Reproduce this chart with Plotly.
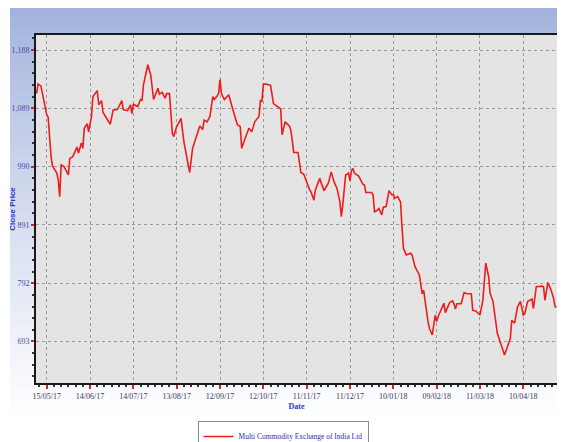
import plotly.graph_objects as go

# ---- data ----
dates = [
    "2017-05-08", "2017-05-09", "2017-05-11", "2017-05-13", "2017-05-15", "2017-05-16", "2017-05-18",
    "2017-05-19", "2017-05-22", "2017-05-23", "2017-05-24", "2017-05-25", "2017-05-27", "2017-05-30",
    "2017-05-31", "2017-06-02", "2017-06-05", "2017-06-06", "2017-06-08", "2017-06-09", "2017-06-10",
    "2017-06-12", "2017-06-13", "2017-06-15", "2017-06-16", "2017-06-19", "2017-06-20", "2017-06-22",
    "2017-06-23", "2017-06-28", "2017-06-30", "2017-07-03", "2017-07-06", "2017-07-07", "2017-07-10",
    "2017-07-12", "2017-07-13", "2017-07-14", "2017-07-17", "2017-07-19", "2017-07-20", "2017-07-21",
    "2017-07-24", "2017-07-26", "2017-07-28", "2017-07-31", "2017-08-01", "2017-08-03", "2017-08-05",
    "2017-08-06", "2017-08-08", "2017-08-10", "2017-08-11",
    "2017-08-13", "2017-08-16", "2017-08-18", "2017-08-20", "2017-08-22", "2017-08-24", "2017-08-26",
    "2017-08-29", "2017-08-31", "2017-09-01", "2017-09-03", "2017-09-05", "2017-09-07", "2017-09-08",
    "2017-09-10", "2017-09-11", "2017-09-12", "2017-09-13", "2017-09-15", "2017-09-18", "2017-09-21",
    "2017-09-24", "2017-09-26", "2017-09-27", "2017-09-29", "2017-10-02", "2017-10-04", "2017-10-06",
    "2017-10-09", "2017-10-10", "2017-10-11", "2017-10-12", "2017-10-14", "2017-10-17", "2017-10-19",
    "2017-10-21", "2017-10-24", "2017-10-25", "2017-10-27", "2017-10-30", "2017-10-31", "2017-11-01",
    "2017-11-02", "2017-11-05", "2017-11-07", "2017-11-09", "2017-11-11", "2017-11-13", "2017-11-14",
    "2017-11-16", "2017-11-17", "2017-11-20", "2017-11-22", "2017-11-23", "2017-11-26", "2017-11-28",
    "2017-11-30", "2017-12-02", "2017-12-04", "2017-12-05", "2017-12-06", "2017-12-08", "2017-12-09",
    "2017-12-10", "2017-12-11", "2017-12-12", "2017-12-13", "2017-12-14", "2017-12-17", "2017-12-18",
    "2017-12-20", "2017-12-21", "2017-12-22", "2017-12-26", "2017-12-27", "2017-12-28", "2017-12-30",
    "2017-12-31", "2018-01-02", "2018-01-03", "2018-01-05", "2018-01-07", "2018-01-09", "2018-01-10",
    "2018-01-11", "2018-01-13", "2018-01-15", "2018-01-16", "2018-01-17", "2018-01-19", "2018-01-22",
    "2018-01-23", "2018-01-25", "2018-01-28", "2018-01-29", "2018-01-30", "2018-01-31", "2018-02-02",
    "2018-02-03", "2018-02-04", "2018-02-06", "2018-02-08", "2018-02-09", "2018-02-10", "2018-02-14",
    "2018-02-15", "2018-02-18", "2018-02-20", "2018-02-21", "2018-02-22", "2018-02-23", "2018-02-26",
    "2018-02-28", "2018-03-02", "2018-03-05", "2018-03-06", "2018-03-08", "2018-03-11", "2018-03-13",
    "2018-03-15", "2018-03-17", "2018-03-18", "2018-03-20", "2018-03-23", "2018-03-25", "2018-03-28",
    "2018-03-30", "2018-04-01", "2018-04-02", "2018-04-04", "2018-04-06", "2018-04-08", "2018-04-10",
    "2018-04-11", "2018-04-13", "2018-04-16", "2018-04-17", "2018-04-19", "2018-04-23", "2018-04-24",
    "2018-04-25", "2018-04-27", "2018-04-29", "2018-05-01", "2018-05-02", "2018-05-03",
]
close_price = [
    1114, 1130, 1127, 1103, 1078, 1074, 1007,
    991, 979, 967, 939, 993, 990, 976,
    1004, 1007, 1023, 1013, 1030, 1021, 1055,
    1063, 1049, 1075, 1109, 1119, 1095, 1102,
    1082, 1062, 1086, 1087, 1102, 1087, 1085,
    1095, 1080, 1096, 1092, 1104, 1102, 1129,
    1163, 1146, 1104, 1123, 1113, 1116, 1106,
    1114, 1114, 1046, 1041,
    1058, 1072, 1032, 1007, 980, 1021, 1038,
    1059, 1053, 1069, 1066, 1075, 1109, 1104,
    1110, 1114, 1138, 1114, 1104, 1112, 1086,
    1061, 1058, 1021, 1035, 1055, 1049, 1066,
    1075, 1103, 1100, 1130, 1130, 1128, 1097,
    1094, 1088, 1044, 1066, 1059, 1052, 1035,
    1014, 1014, 980, 977, 963, 951, 947,
    933, 950, 970, 956, 949, 962, 981,
    964, 953, 930, 905, 925, 976, 977,
    979, 966, 983, 987, 979, 974, 970,
    960, 959, 946, 946, 942, 913, 916,
    919, 908, 921, 922, 949, 942, 943,
    936, 939, 930, 888, 851, 840, 843,
    840, 820, 806, 789, 774, 780, 740,
    727, 715, 704, 738, 727, 735, 758,
    742, 759, 762, 757, 748, 757, 757,
    776, 774, 774, 746, 745, 738, 763,
    826, 803, 775, 761, 707, 693, 670,
    684, 698, 729, 724, 752, 761, 738,
    740, 761, 765, 749, 786, 787, 786,
    763, 793, 782, 766, 752, 751,
]
series_name = "Multi Commodity Exchange of India Ltd"

x_tick_vals = ["2017-05-15", "2017-06-14", "2017-07-14", "2017-08-13", "2017-09-12", "2017-10-12",
               "2017-11-11", "2017-12-11", "2018-01-10", "2018-02-09", "2018-03-11", "2018-04-10"]
x_tick_text = ["15/05/17", "14/06/17", "14/07/17", "13/08/17", "12/09/17", "12/10/17",
               "11/11/17", "11/12/17", "10/01/18", "09/02/18", "11/03/18", "10/04/18"]
y_tick_vals = [693, 792, 891, 990, 1089, 1188]
y_tick_text = ["693", "792", "891", "990", "1,089", "1,188"]

# ---- geometry (page pixels; the page body has an 8px margin) ----
OFF = 8
W, H = 565 - OFF, 442 - OFF
PL, PR, PT, PB = 36, 557, 35, 383          # plot area in page pixels
ML, MT = PL - OFF, PT - OFF
MR = (W + OFF) - PR
MB = (H + OFF) - PB
plot_w = PR - PL
plot_h = PB - PT


def px_to_paper_y(py):
    return (PB - py) / plot_h


def px_to_paper_x(px):
    return (px - PL) / plot_w


fig = go.Figure()
fig.add_trace(go.Scatter(
    x=dates, y=close_price, mode="lines", name=series_name,
    line=dict(color="#ee1c1c", width=1.6),
))

# background panel with a vertical blue-to-white gradient (built from bands)
shapes = []
top_c = (162, 178, 220)
bot_c = (255, 255, 255)
y_top, y_bot = 8, 425
n = 45
for i in range(n):
    t = i / (n - 1)
    c = tuple(int(round(a + (b - a) * (t ** 0.85))) for a, b in zip(top_c, bot_c))
    py0 = y_top + (y_bot - y_top) * i / n
    py1 = y_top + (y_bot - y_top) * (i + 1) / n
    shapes.append(dict(
        type="rect", xref="paper", yref="paper", layer="below",
        x0=px_to_paper_x(10), x1=px_to_paper_x(570),
        y0=px_to_paper_y(py1 + 0.6), y1=px_to_paper_y(py0),
        fillcolor="rgb(%d,%d,%d)" % c, line=dict(width=0),
    ))
# plot area fill
shapes.append(dict(type="rect", xref="paper", yref="paper", layer="below",
                   x0=0, x1=1, y0=0, y1=1, fillcolor="#e4e4e4", line=dict(width=0)))

fig.update_layout(
    width=W, height=H,
    margin=dict(l=ML, r=MR, t=MT, b=MB, autoexpand=False),
    paper_bgcolor="white",
    plot_bgcolor="#e4e4e4",
    shapes=shapes,
    showlegend=True,
    legend=dict(
        x=px_to_paper_x(283), xanchor="center",
        yref="container", y=(H + OFF - 421) / H, yanchor="top",
        bgcolor="white", bordercolor="#8a8a8a", borderwidth=1,
        font=dict(family="Liberation Serif", size=7.5, color="#2630b0"),
        itemwidth=30, tracegroupgap=0,
    ),
    xaxis=dict(
        type="date",
        range=["2017-05-07 14:00", "2018-05-03 08:00"],
        tickmode="array", tickvals=x_tick_vals, ticktext=x_tick_text,
        tickfont=dict(family="Liberation Serif", size=8, color="#3a3a5a"),
        ticks="outside", ticklen=4, tickwidth=1.5, tickcolor="#dd2222",
        showline=True, linecolor="#1a1a1a", linewidth=2, mirror=True,
        showgrid=True, gridcolor="#9a9a9a", griddash="dot", gridwidth=1,
        zeroline=False,
        minor=dict(ticks="outside", ticklen=2, tickcolor="#333333",
                   tick0="2017-05-15", dtick=5 * 86400000, showgrid=False),
        title=dict(text="<b>Date</b>", standoff=4,
                   font=dict(family="Liberation Serif", size=8, color="#2a3ac8")),
    ),
    yaxis=dict(
        range=[622.5, 1213.5],
        tickmode="array", tickvals=y_tick_vals, ticktext=y_tick_text,
        tickfont=dict(family="Liberation Serif", size=8, color="#4a4ab0"),
        ticks="outside", ticklen=3, tickwidth=2, tickcolor="#dd2222",
        showline=True, linecolor="#1a1a1a", linewidth=2, mirror=True,
        showgrid=True, gridcolor="#9a9a9a", griddash="dot", gridwidth=1,
        zeroline=False,
        minor=dict(ticks="outside", ticklen=2, tickcolor="#333333",
                   tick0=693, dtick=19.8, showgrid=False),
        title=dict(text="<b>Close Price</b>", standoff=4,
                   font=dict(family="Liberation Sans", size=8, color="#2a3ac8")),
    ),
)

fig.write_html("out.html")
